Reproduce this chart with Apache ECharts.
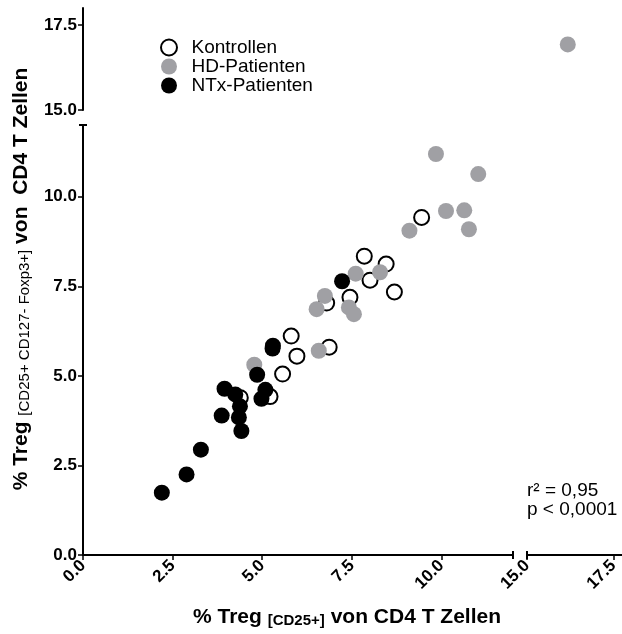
<!DOCTYPE html>
<html>
<head>
<meta charset="utf-8">
<script src="https://cdn.jsdelivr.net/npm/echarts@6/dist/echarts.min.js"></script>
<style>
  html, body { margin: 0; padding: 0; background: #fff; }
  #chart { width: 622px; height: 634px; }
</style>
</head>
<body>
<div id="chart"></div>
<script>
// Treg percentages: CD25+ (x) against CD25+ CD127- Foxp3+ (y), per group
const groupNames = ['Kontrollen', 'HD-Patienten', 'NTx-Patienten'];

const kontrollenX = [9.45, 7.85, 8.46, 8.01, 8.69, 7.45, 6.80, 5.81, 5.97, 6.87, 5.57, 5.22, 4.39];
const kontrollenY = [9.42, 8.34, 8.12, 7.67, 7.34, 7.19, 7.03, 6.11, 5.55, 5.80, 5.05, 4.42, 4.39];

const hdX = [9.85, 11.03, 10.13, 10.64, 10.77, 9.11, 7.61, 8.29, 6.75, 6.52, 7.42, 7.56, 6.58, 4.78, 16.18];
const hdY = [11.19, 10.63, 9.60, 9.62, 9.09, 9.05, 7.85, 7.89, 7.23, 6.86, 6.91, 6.72, 5.70, 5.31, 16.93];

const ntxX = [2.20, 2.89, 3.29, 3.95, 3.87, 4.25, 4.38, 4.35, 4.42, 4.86, 5.29, 5.30, 5.09, 4.98, 7.23];
const ntxY = [1.74, 2.25, 2.94, 4.64, 3.89, 4.48, 4.15, 3.84, 3.46, 5.03, 5.76, 5.84, 4.61, 4.36, 7.64];

const xTicksLow = [0, 2.5, 5, 7.5, 10];
const xTicksHigh = [15, 17.5];
const yTicksLow = [0, 2.5, 5, 7.5, 10];
const yTicksHigh = [15, 17.5];

const statLines = ['r\u00B2 = 0,95', 'p < 0,0001'];

// broken-axis segments
const xLow = [0, 12], xHigh = [15, 17.75];
const yLow = [0, 12], yHigh = [15, 18];

const FONT = '"Liberation Sans", Arial, Helvetica, sans-serif';

// grid 0: low x / low y, 1: low x / high y, 2: high x / low y, 3: high x / high y
const grids = [
  { left: 83, top: 125, width: 430, height: 430 },
  { left: 83, top: 8, width: 430, height: 102 },
  { left: 527, top: 125, width: 95, height: 430 },
  { left: 527, top: 8, width: 95, height: 102 }
];
const gridRanges = [
  { x: xLow, y: yLow }, { x: xLow, y: yHigh },
  { x: xHigh, y: yLow }, { x: xHigh, y: yHigh }
];

const lineStyle = { color: '#000', width: 2 };
const tickLabel = { color: '#000', fontFamily: FONT, fontWeight: 'bold', fontSize: 17 };

function xAxisFor(i) {
  const r = gridRanges[i].x;
  const visible = (i === 0 || i === 2);
  const ticks = i === 0 ? xTicksLow : xTicksHigh;
  return {
    type: 'value', gridIndex: i, min: r[0], max: r[1], position: 'bottom',
    show: visible,
    axisLine: { show: visible, lineStyle: lineStyle },
    axisTick: { show: visible, length: 5, lineStyle: { color: '#000', width: 1.5 }, customValues: ticks },
    axisLabel: Object.assign({ show: visible, rotate: 45, margin: 8, customValues: ticks,
      formatter: v => v.toFixed(1) }, tickLabel),
    splitLine: { show: false }
  };
}

function yAxisFor(i) {
  const r = gridRanges[i].y;
  const visible = (i === 0 || i === 1);
  const ticks = i === 0 ? yTicksLow : yTicksHigh;
  return {
    type: 'value', gridIndex: i, min: r[0], max: r[1], position: 'left',
    show: visible,
    axisLine: { show: visible, lineStyle: lineStyle },
    axisTick: { show: visible, length: 5, lineStyle: { color: '#000', width: 1.5 }, customValues: ticks },
    axisLabel: Object.assign({ show: visible, margin: 6, customValues: ticks,
      formatter: v => v.toFixed(1) }, tickLabel),
    splitLine: { show: false }
  };
}

const groups = [
  { name: groupNames[0], xs: kontrollenX, ys: kontrollenY, size: 15, z: 2,
    itemStyle: { color: '#ffffff', borderColor: '#000', borderWidth: 2, opacity: 1 } },
  { name: groupNames[1], xs: hdX, ys: hdY, size: 16, z: 3,
    itemStyle: { color: '#a0a0a4', opacity: 1 } },
  { name: groupNames[2], xs: ntxX, ys: ntxY, size: 16, z: 4,
    itemStyle: { color: '#000000', opacity: 1 } }
];

const inside = (v, r) => v >= r[0] && v <= r[1];

const series = [];
groups.forEach(g => {
  gridRanges.forEach((rng, i) => {
    const data = [];
    g.xs.forEach((x, k) => {
      const y = g.ys[k];
      if (inside(x, rng.x) && inside(y, rng.y)) data.push([x, y]);
    });
    series.push({
      type: 'scatter', name: g.name, xAxisIndex: i, yAxisIndex: i,
      data: data, symbol: 'circle', symbolSize: g.size, z: g.z,
      itemStyle: g.itemStyle, clip: false,
      emphasis: { disabled: true }
    });
  });
});

const chart = echarts.init(document.getElementById('chart'), null, { renderer: 'canvas' });

chart.setOption({
  animation: false,
  backgroundColor: '#fff',
  grid: grids,
  xAxis: [0, 1, 2, 3].map(xAxisFor),
  yAxis: [0, 1, 2, 3].map(yAxisFor),
  legend: {
    data: groupNames,
    orient: 'vertical',
    left: 155, top: 33,
    itemWidth: 35, itemHeight: 16, itemGap: 0,
    icon: 'circle',
    textStyle: { color: '#000', fontFamily: FONT, fontSize: 19, lineHeight: 19 },
    selectedMode: false
  },
  series: series
});

// axis break caps and text labels, placed through the axes
const px = (gi, pt) => chart.convertToPixel({ gridIndex: gi }, pt);
const capV = (p) => ({ type: 'line', shape: { x1: p[0], y1: p[1] - 4, x2: p[0], y2: p[1] + 4 },
  style: { stroke: '#000', lineWidth: 2 }, z: 10 });
const capH = (p) => ({ type: 'line', shape: { x1: p[0] - 4, y1: p[1], x2: p[0] + 4, y2: p[1] },
  style: { stroke: '#000', lineWidth: 2 }, z: 10 });

const xEnd = px(0, [xLow[1], yLow[0]]);
const xStart = px(2, [xHigh[0], yLow[0]]);
const yTop = px(0, [xLow[0], yLow[1]]);

const titleRichX = {
  a: { fontFamily: FONT, fontWeight: 'bold', fontSize: 21, fill: '#000', lineHeight: 23 },
  b: { fontFamily: FONT, fontWeight: 'bold', fontSize: 15, fill: '#000', lineHeight: 23, verticalAlign: 'bottom' }
};
const titleRichY = {
  a: { fontFamily: FONT, fontWeight: 'bold', fontSize: 21, fill: '#000', lineHeight: 23 },
  b: { fontFamily: FONT, fontWeight: 'normal', fontSize: 15, fill: '#000', lineHeight: 23, verticalAlign: 'bottom' }
};

chart.setOption({
  graphic: [
    capV(xEnd), capV(xStart), capH(yTop),
    {
      type: 'text', x: 347, y: 617, z: 10,
      style: { text: '{a|% Treg }{b|[CD25+]}{a| von CD4 T Zellen}', rich: titleRichX,
        align: 'center', verticalAlign: 'middle' }
    },
    {
      type: 'text', x: 21, y: 279, rotation: Math.PI / 2, z: 10,
      style: { text: '{a|% Treg }{b|[CD25+ CD127- Foxp3+]}{a| von  CD4 T Zellen}', rich: titleRichY,
        align: 'center', verticalAlign: 'middle' }
    },
    {
      type: 'text', x: 527, y: 481, z: 10,
      style: { text: statLines.join('\n'), fontFamily: FONT, fontSize: 19, lineHeight: 19,
        fill: '#000', align: 'left', verticalAlign: 'top' }
    }
  ]
});
</script>
</body>
</html>
